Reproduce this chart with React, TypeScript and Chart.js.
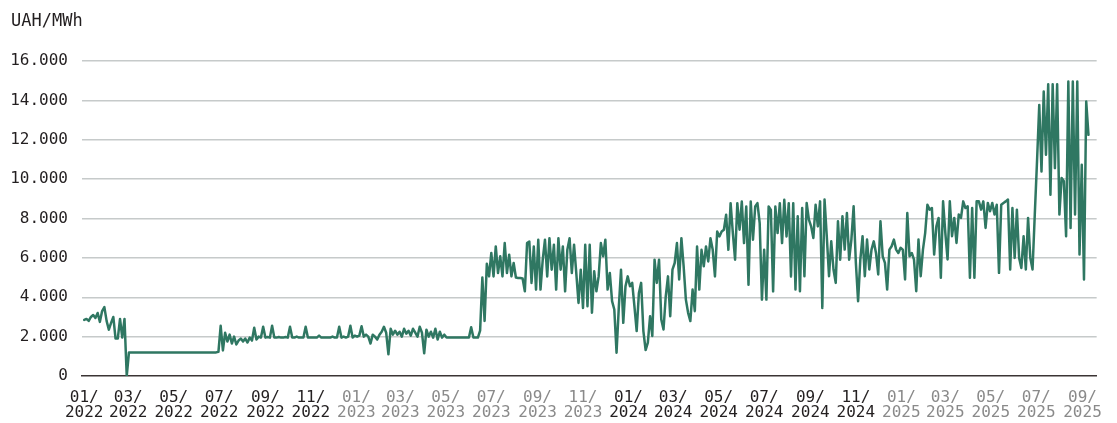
import React, { useEffect, useRef } from 'react';
import { Chart, registerables } from 'chart.js';

Chart.register(...registerables);

// ---- Data -------------------------------------------------------------
// Price series (UAH/MWh), one value every STEP_DAYS days starting START_DATE.
const START_DATE = '2022-01-01';
const STEP_DAYS = 3;

const prices2022 = [
  2850, 2900, 2800, 3000, 3100, 2950, 3200, 2750, 3300, 3500,
  2800, 2350, 2700, 3000, 1900, 1900, 2900, 1950, 2900, 0,
  1200, 1200, 1200, 1200, 1200, 1200, 1200, 1200, 1200, 1200,
  1200, 1200, 1200, 1200, 1200, 1200, 1200, 1200, 1200, 1200,
  1200, 1200, 1200, 1200, 1200, 1200, 1200, 1200, 1200, 1200,
  1200, 1200, 1200, 1200, 1200, 1200, 1200, 1200, 1200, 1200,
  1230, 2550, 1300, 2200, 1750, 2100, 1650, 2000, 1600, 1800,
  1900, 1750, 1900, 1700, 1950, 1800, 2450, 1850, 2000, 1950,
  2500, 1950, 1980, 1950, 2550, 1950, 1950, 1980, 1950, 1950,
  1980, 1950, 2500, 1950, 1950, 2000, 1950, 1950, 1950, 2500,
  1950, 1950, 1950, 1950, 1950, 2050, 1950, 1950, 1950, 1950,
  1950, 2000, 1950, 1950, 2500, 1950, 2000, 1950, 2000, 2550,
  1950, 2050,
];

const prices2023 = [
  2000, 2050, 2530, 2000, 2100, 2000, 1650, 2100, 2000, 1850,
  2100, 2250, 2500, 2200, 1100, 2400, 2100, 2300, 2100, 2250,
  2000, 2400, 2150, 2300, 2050, 2400, 2200, 2000, 2500, 2200,
  1150, 2350, 2000, 2250, 1950, 2400, 1850, 2250, 1950, 2100,
  1950, 1950, 1950, 1950, 1950, 1950, 1950, 1950, 1950, 1950,
  1950, 2480, 1950, 1950, 1950, 2300, 5000, 2800, 5700, 5060,
  6250, 5060, 6580, 5230, 6080, 5060, 6750, 5230, 6160, 5060,
  5740, 5000, 4980, 4980, 4950, 4300, 6750, 6830, 4730, 6580,
  4390, 6920, 4390, 5910, 6920, 5060, 7000, 5400, 6670, 4390,
  7000, 5400, 6580, 4300, 6410, 7000, 5230, 6670, 5230, 3710,
  5400, 3460, 6670, 3540, 6670, 3210, 5320, 4300, 5060, 6750,
  6080, 6920, 4390, 5230, 3800, 3380, 1180, 3460, 5400, 2700,
  4560, 5060,
];

const prices2024 = [
  4560, 4730, 3540, 2280, 4220, 4730, 2280, 1320, 1690, 3040,
  2030, 5910, 4730, 5910, 2870, 2360, 4050, 5060, 3040, 5400,
  5740, 6750, 4900, 7000, 5570, 3880, 3210, 2790, 4390, 3290,
  6580, 4390, 6410, 5570, 6580, 5820, 7000, 6410, 5060, 7340,
  7090, 7340, 7430, 8190, 6410, 8780, 7260, 5910, 8780, 7430,
  8860, 6750, 8610, 4640, 8860, 6920, 8610, 8780, 7770, 3880,
  6410, 3880, 8610, 8440, 4300, 8610, 7260, 8780, 6750, 8950,
  7090, 8780, 5060, 8780, 4390, 8110, 4310, 8530, 5070, 8790,
  7940, 7600, 7010, 8700, 7600, 8870, 3460, 8960, 7100, 5070,
  6840, 5410, 4730, 7860, 5910, 8110, 6420, 8280, 5910, 6930,
  8620, 5750, 3800, 5910, 7100, 5070, 6930, 5410, 6420, 6840,
  6250, 5160, 7860, 6080, 5750, 4390, 6420, 6590, 6930, 6420,
  6250, 6510,
];

const prices2025 = [
  6420, 4900, 8280, 6080, 6250, 5910, 4310, 6930, 5070, 6420,
  7270, 8700, 8450, 8530, 6170, 7600, 8030, 4990, 8870, 7270,
  5920, 8870, 7100, 8030, 6760, 8200, 8030, 8870, 8530, 8620,
  4990, 8530, 4990, 8870, 8870, 8450, 8870, 7520, 8790, 8370,
  8790, 8200, 8700, 5240, 8700, 8790, 8870, 8960, 5410, 8530,
  6000, 8450, 6000, 5490, 7100, 5410, 8030, 6000, 5410, 8200,
  10900, 13770, 10390, 14450, 11240, 14820, 9210, 14820, 10560, 14820,
  8200, 10060, 9890, 7100, 14960, 7520, 14960, 8200, 14960, 6170,
  10730, 4900, 13940, 12250,
];

// X axis tick months (every second month) and visible range
const tickMonths = [
  '2022-01', '2022-03', '2022-05', '2022-07', '2022-09', '2022-11',
  '2023-01', '2023-03', '2023-05', '2023-07', '2023-09', '2023-11',
  '2024-01', '2024-03', '2024-05', '2024-07', '2024-09', '2024-11',
  '2025-01', '2025-03', '2025-05', '2025-07', '2025-09',
];
const greyYears = ['2023', '2025'];
const X_MIN_DATE = '2021-12-29';
const X_MAX_DATE = '2025-09-20';

const Y_MIN = 0;
const Y_MAX = 16000;
const Y_STEP = 2000;
const UNIT_LABEL = 'UAH/MWh';

// ---- Styles -----------------------------------------------------------
const FONT = '"DejaVu Sans Mono", monospace';
const TEXT = '#231f20';
const GREY = '#8a8a8a';
const LINE = '#2f7762';
const GRID = '#c6caca';
const AXIS = '#3b3434';

const DAY_MS = 86400000;
const t0 = Date.parse(START_DATE + 'T00:00:00Z');
const dayOf = (s: string) => (Date.parse(s + 'T00:00:00Z') - t0) / DAY_MS;

const allPrices = [...prices2022, ...prices2023, ...prices2024, ...prices2025];
const points = allPrices.map((v, i) => ({ x: i * STEP_DAYS, y: v }));

const fmtThousands = (v: number) =>
  String(Math.round(v)).replace(/\B(?=(\d{3})+(?!\d))/g, '.');

const unitLabelPlugin = {
  id: 'unitLabel',
  afterDraw(chart: any) {
    const ctx = chart.ctx;
    ctx.save();
    ctx.font = `17px ${FONT}`;
    ctx.fillStyle = TEXT;
    ctx.textAlign = 'left';
    ctx.textBaseline = 'alphabetic';
    ctx.fillText(UNIT_LABEL, 11, 26);
    ctx.restore();
  },
};

export default function App() {
  const ref = useRef<HTMLCanvasElement | null>(null);

  useEffect(() => {
    document.body.style.margin = '0';
    const canvas = ref.current;
    if (!canvas) return;
    const chart = new Chart(canvas, {
      type: 'line',
      data: {
        datasets: [
          {
            data: points,
            borderColor: LINE,
            backgroundColor: LINE,
            borderWidth: 2.5,
            borderJoinStyle: 'round',
            borderCapStyle: 'round',
            pointRadius: 0,
            tension: 0,
            fill: false,
          },
        ],
      },
      options: {
        responsive: false,
        animation: false,
        parsing: false,
        normalized: true,
        layout: { padding: { top: 61, right: 17, bottom: 0, left: 0 } },
        plugins: {
          legend: { display: false },
          tooltip: { enabled: false },
          title: { display: false },
        },
        scales: {
          x: {
            type: 'linear',
            min: dayOf(X_MIN_DATE),
            max: dayOf(X_MAX_DATE),
            grid: { display: false, drawTicks: false },
            border: { display: true, color: AXIS, width: 1.5 },
            afterBuildTicks: (scale: any) => {
              scale.ticks = tickMonths.map((m) => ({ value: dayOf(m + '-01') }));
            },
            afterFit: (scale: any) => {
              scale.height = 47;
            },
            ticks: {
              autoSkip: false,
              maxRotation: 0,
              minRotation: 0,
              padding: 15,
              font: { family: FONT, size: 16, lineHeight: 0.9 },
              color: (ctx: any) =>
                greyYears.includes(tickMonths[ctx.index]?.slice(0, 4)) ? GREY : TEXT,
              callback: (_v: any, index: number) => {
                const [y, m] = tickMonths[index].split('-');
                return [m + '/', y];
              },
            },
          },
          y: {
            type: 'linear',
            min: Y_MIN,
            max: Y_MAX,
            border: { display: false },
            grid: {
              drawTicks: false,
              lineWidth: 1.5,
              color: (ctx: any) => (ctx.tick && ctx.tick.value === 0 ? 'rgba(0,0,0,0)' : GRID),
            },
            afterFit: (scale: any) => {
              scale.width = 82;
            },
            ticks: {
              stepSize: Y_STEP,
              padding: 14,
              color: TEXT,
              font: { family: FONT, size: 16 },
              callback: (v: any) => fmtThousands(Number(v)),
            },
          },
        },
      },
      plugins: [unitLabelPlugin],
    } as any);
    return () => chart.destroy();
  }, []);

  return (
    <div style={{ width: 1117, height: 423 }}>
      <canvas ref={ref} width={1117} height={423} style={{ display: 'block' }} />
    </div>
  );
}
